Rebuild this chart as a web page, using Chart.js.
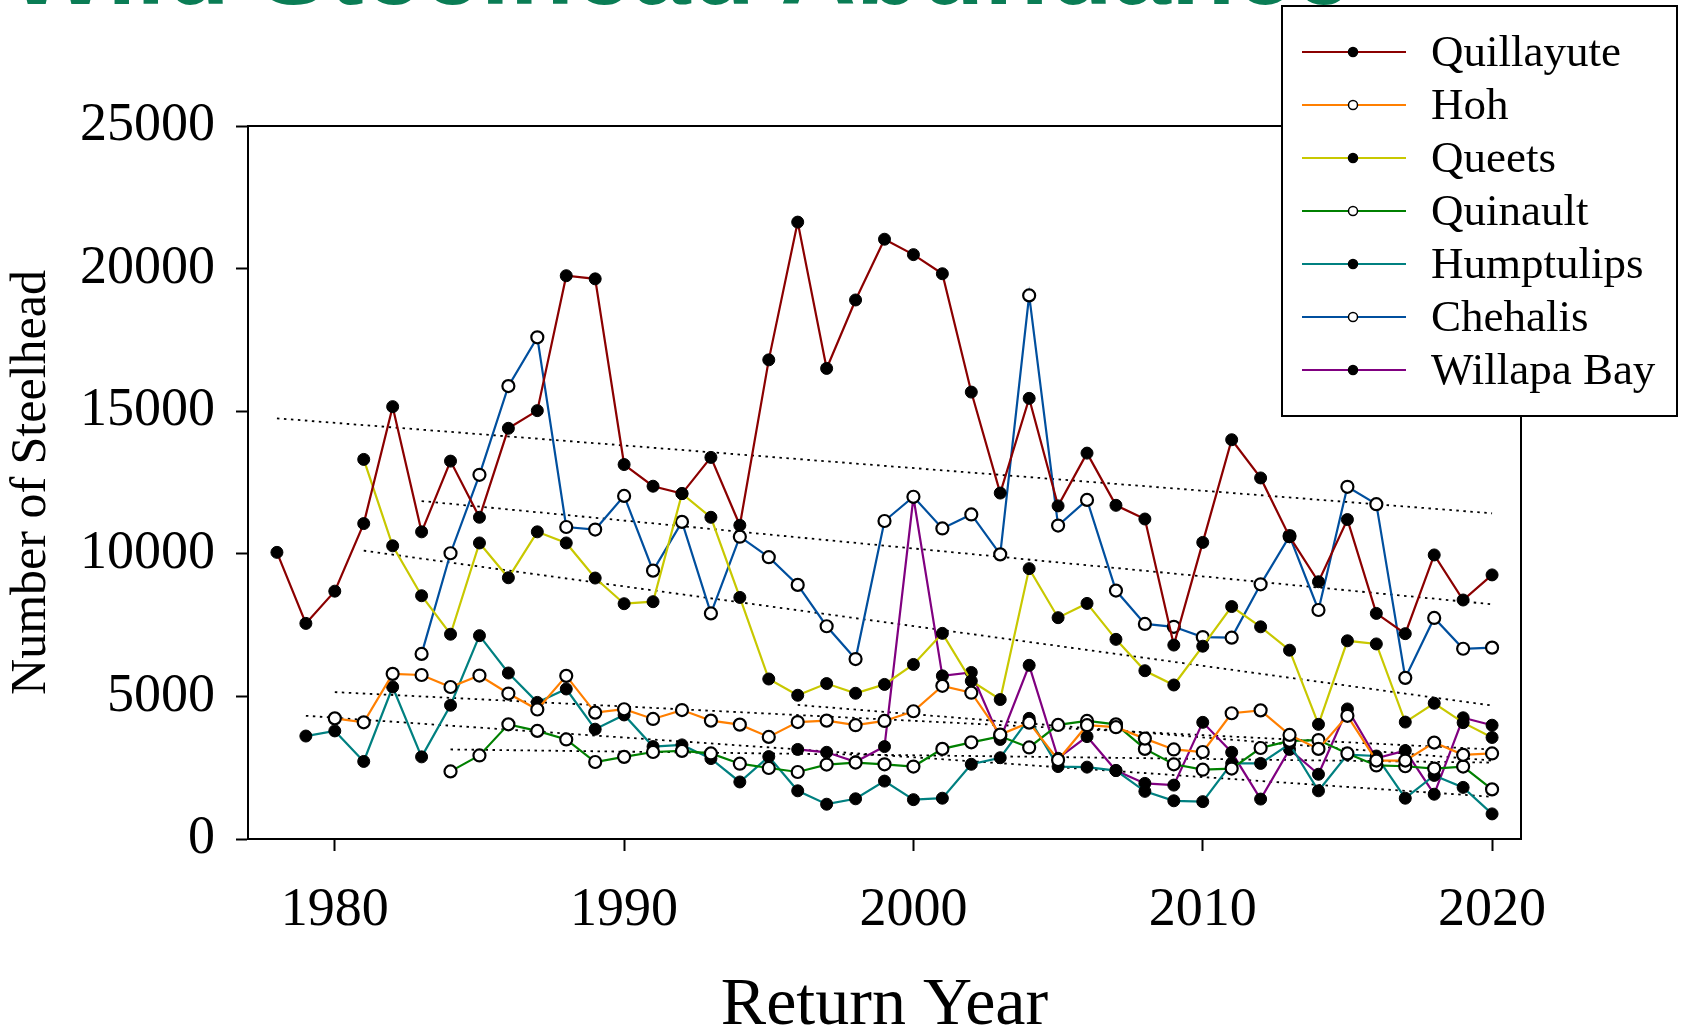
<!DOCTYPE html>
<html>
<head>
    <meta charset="UTF-8">
    <title>Wild Steelhead Abundance</title>
    <script src="https://cdn.jsdelivr.net/npm/chart.js"></script>
    <style>
        html, body { margin: 0; padding: 0; background: #fff; overflow: hidden; }
        #wrap { position: relative; width: 1682px; height: 1033px; }
        #slideTitle {
            position: absolute; left: 9px; top: -85px;
            font: bold 105px "Liberation Sans", Arial, sans-serif;
            line-height: 105px; color: #0a7d55; white-space: nowrap; z-index: 2;
        }
        canvas { position: absolute; left: 0; top: 0; }
    </style>
</head>
<body>
<div id="wrap">
    <div id="slideTitle">Wild Steelhead Abundance</div>
    <canvas id="steelheadChart" width="1682" height="1033"></canvas>
</div>

<script>
    // returns per river, first year of each series given separately
    const quillayuteStart = 1978;
    const quillayute = [10050, 7560, 8690, 11060, 15160, 10770, 13250, 11280, 14400, 15020,
        19750, 19640, 13130, 12370, 12110, 13380, 11000, 16800, 21630, 16500,
        18900, 21030, 20490, 19820, 15670, 12130, 15450, 11680, 13530, 11700,
        11220, 6800, 10400, 14000, 12660, 10600, 9020, 11200, 7910, 7200,
        9960, 8380, 9260];

    const hohStart = 1980;
    const hoh = [4230, 4090, 5790, 5750, 5330, 5730, 5100, 4540, 5720, 4430,
        4550, 4210, 4520, 4150, 4010, 3580, 4100, 4150, 3990, 4140,
        4480, 5370, 5130, 3660, 4080, 2770, 3990, 3920, 3520, 3140,
        3050, 4410, 4510, 3650, 3160, 4320, 2750, 2750, 3380, 2950,
        3000];

    const queetsStart = 1981;
    const queets = [13310, 10280, 8530, 7180, 10380, 9160, 10770, 10380, 9150,
        8250, 8320, 12110, 11280, 8470, 5610, 5040, 5450, 5110, 5420,
        6120, 7210, 5540, 4890, 9480, 7760, 8260, 7000, 5900, 5400,
        6760, 8150, 7440, 6620, 4020, 6950, 6840, 4100, 4760, 4080,
        3560];

    const quinaultStart = 1984;
    const quinault = [2370, 2930, 4020, 3790, 3490, 2700,
        2880, 3050, 3090, 3000, 2640, 2490, 2350, 2610, 2680, 2620,
        2540, 3160, 3390, 3600, 3210, 4000, 4140, 4020, 3160, 2620,
        2430, 2470, 3190, 3440, 3470, 3000, 2580, 2550, 2470, 2540,
        1740];

    const humptulipsStart = 1979;
    const humptulips = [3610, 3790, 2720, 5330, 2880, 4690, 7130, 5820, 4790, 5260, 3850,
        4350, 3240, 3300, 2820, 2000, 2890, 1690, 1220, 1410, 2030,
        1380, 1430, 2620, 2850, 4230, 2540, 2520, 2400, 1670, 1340,
        1310, 2650, 2650, 3330, 1690, 2960, 2910, 1430, 2230, 1810,
        880];

    const chehalisStart = 1983;
    const chehalis = [6490, 10020, 12770, 15880, 17590, 10940, 10850,
        12030, 9410, 11120, 7910, 10600, 9880, 8910, 7460, 6310, 11150,
        12000, 10890, 11380, 9980, 19060, 10990, 11890, 8710, 7540, 7440,
        7080, 7060, 8930, 10620, 8030, 12350, 11740, 5650, 7750, 6670,
        6710];

    const willapaStart = 1996;
    const willapa = [3140, 3040, 2710, 3240,
        11980, 5720, 5840, 3490, 6090, 2830, 3590, 2400, 1950, 1890,
        4090, 3040, 1400, 3140, 2270, 4560, 2830, 3100, 1570, 4250,
        3990];

    const riverNames = ["Quillayute", "Hoh", "Queets", "Quinault", "Humptulips", "Chehalis", "Willapa Bay"];
    const riverStarts = [quillayuteStart, hohStart, queetsStart, quinaultStart, humptulipsStart, chehalisStart, willapaStart];
    const riverValues = [quillayute, hoh, queets, quinault, humptulips, chehalis, willapa];
    const riverColors = ["#8b0000", "#ff7f00", "#c8c800", "#008000", "#008080", "#004f9e", "#800080"];
    const riverOpen = [false, true, false, true, false, true, false];

    // dotted trend lines (start year -> 2020)
    const trendStartYear = [1978, 1980, 1981, 1984, 1979, 1983, 1996];
    const trendStartValue = [14750, 5150, 10110, 3140, 4320, 11850, 4700];
    const trendEndYear = 2020;
    const trendEndValue = [11420, 3140, 4680, 2680, 1480, 8230, 2750];

    const xTicks = [1980, 1990, 2000, 2010, 2020];

    const serif = '"Liberation Serif", "Times New Roman", serif';

    const datasets = [];
    for (let i = 0; i < riverNames.length; i++) {
        datasets.push({
            label: riverNames[i],
            data: riverValues[i].map((v, k) => ({ x: riverStarts[i] + k, y: v })),
            borderColor: riverColors[i],
            borderWidth: 2.2,
            pointRadius: 6,
            pointBorderWidth: riverOpen[i] ? 2.2 : 1,
            pointBorderColor: "#000",
            pointBackgroundColor: riverOpen[i] ? "#fff" : "#000",
            tension: 0,
            fill: false
        });
    }
    for (let i = 0; i < trendStartYear.length; i++) {
        datasets.push({
            label: "",
            isTrend: true,
            data: [{ x: trendStartYear[i], y: trendStartValue[i] }, { x: trendEndYear, y: trendEndValue[i] }],
            borderColor: "#000",
            borderWidth: 1.8,
            borderDash: [2.5, 4.5],
            pointRadius: 0,
            fill: false
        });
    }

    // box around the plot plus the legend in the top right corner
    const frameAndLegend = {
        id: "frameAndLegend",
        afterDraw(chart) {
            const ctx = chart.ctx;
            const a = chart.chartArea;
            ctx.save();
            ctx.strokeStyle = "#000";
            ctx.lineWidth = 2;
            ctx.strokeRect(a.left, a.top, a.right - a.left, a.bottom - a.top);

            const bx = 1282, by = 6, bw = 395, bh = 410;
            ctx.fillStyle = "#fff";
            ctx.fillRect(bx, by, bw, bh);
            ctx.strokeRect(bx, by, bw, bh);

            ctx.font = "45px " + serif;
            ctx.textBaseline = "middle";
            ctx.textAlign = "left";
            chart.data.datasets.filter(d => !d.isTrend).forEach((d, i) => {
                const y = 52 + i * 53;
                ctx.strokeStyle = d.borderColor;
                ctx.lineWidth = 2;
                ctx.beginPath();
                ctx.moveTo(1302, y);
                ctx.lineTo(1406, y);
                ctx.stroke();
                ctx.beginPath();
                ctx.arc(1353, y, 4.5, 0, Math.PI * 2);
                ctx.fillStyle = d.pointBackgroundColor;
                ctx.fill();
                ctx.strokeStyle = "#000";
                ctx.lineWidth = 1.5;
                ctx.stroke();
                ctx.fillStyle = "#000";
                ctx.fillText(d.label, 1431, y + 2);
            });
            ctx.restore();
        }
    };

    new Chart(document.getElementById("steelheadChart"), {
        type: "line",
        data: { datasets: datasets },
        plugins: [frameAndLegend],
        options: {
            responsive: false,
            animation: false,
            devicePixelRatio: 1,
            layout: { padding: { top: 126, right: 161, left: 0, bottom: 0 } },
            plugins: {
                legend: { display: false },
                tooltip: { enabled: false }
            },
            scales: {
                x: {
                    type: "linear",
                    min: 1977,
                    max: 2021,
                    afterBuildTicks: (scale) => { scale.ticks = xTicks.map(v => ({ value: v })); },
                    afterFit: (scale) => { scale.height = 194; },
                    ticks: {
                        color: "#000",
                        font: { family: serif, size: 54 },
                        padding: 27,
                        maxRotation: 0,
                        callback: (v) => String(v)
                    },
                    grid: { drawOnChartArea: false, drawTicks: true, tickLength: 12, tickWidth: 2, tickColor: "#000" },
                    border: { display: true, color: "#000", width: 2 },
                    title: {
                        display: true,
                        text: "Return Year",
                        color: "#000",
                        font: { family: serif, size: 68 },
                        padding: { top: 0, bottom: -14 }
                    }
                },
                y: {
                    min: 0,
                    max: 25000,
                    afterFit: (scale) => { scale.width = 248; },
                    ticks: {
                        stepSize: 5000,
                        color: "#000",
                        font: { family: serif, size: 54 },
                        padding: 21,
                        callback: (v) => String(v)
                    },
                    grid: { drawOnChartArea: false, drawTicks: true, tickLength: 12, tickWidth: 2, tickColor: "#000" },
                    border: { display: true, color: "#000", width: 2 },
                    title: {
                        display: true,
                        text: "Number of Steelhead",
                        color: "#000",
                        font: { family: serif, size: 50 },
                        padding: { top: 2, bottom: 0 }
                    }
                }
            }
        }
    });
</script>
</body>
</html>
